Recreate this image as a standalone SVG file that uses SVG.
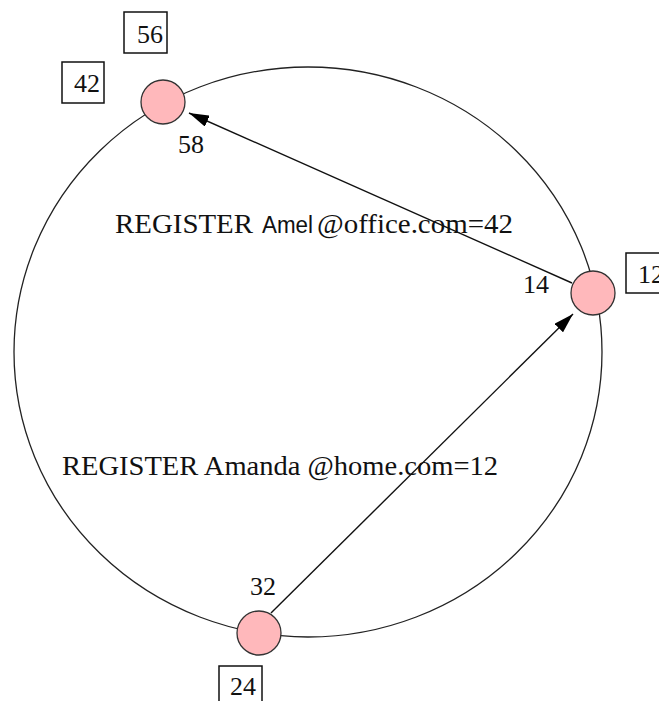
<svg xmlns="http://www.w3.org/2000/svg" width="659" height="701" viewBox="0 0 659 701">
  <style>
    .ring { fill: none; stroke: #222; stroke-width: 1.3; }
    .node circle { fill: #ffb8bb; stroke: #333; stroke-width: 1.3; }
    .id rect { fill: #fff; stroke: #111; stroke-width: 1.5; }
    .t { font-family: "Liberation Serif", "Times New Roman", serif; font-size: 26px; fill: #111; }
    .msg { font-family: "Liberation Serif", "Times New Roman", serif; font-size: 27px; fill: #111; }
    .sans { font-family: "Liberation Sans", Arial, sans-serif; font-size: 23px; }
    .edge { stroke: #111; stroke-width: 1.4; fill: none; marker-end: url(#head); }
  </style>
  <defs>
    <marker id="head" viewBox="0 0 20 12" refX="20" refY="6" markerWidth="20" markerHeight="12" markerUnits="userSpaceOnUse" orient="auto">
      <path d="M0,0 L20,6 L0,12 Z" fill="#000"/>
    </marker>
  </defs>

  <!-- identifier ring -->
  <ellipse class="ring" cx="308" cy="352" rx="294" ry="285"/>

  <!-- connectors -->
  <g id="connectors">
    <line class="edge" x1="572" y1="283" x2="189" y2="113"/>
    <line class="edge" x1="271" y1="613" x2="573" y2="314"/>
  </g>

  <!-- messages -->
  <text class="msg" x="115" y="233" textLength="138" lengthAdjust="spacingAndGlyphs">REGISTER</text>
  <text class="msg sans" x="262" y="233" textLength="51" lengthAdjust="spacingAndGlyphs">Amel</text>
  <text class="msg" x="317" y="233" textLength="196" lengthAdjust="spacingAndGlyphs">@office.com=42</text>
  <text class="msg" x="62" y="475" textLength="436" lengthAdjust="spacingAndGlyphs">REGISTER Amanda @home.com=12</text>

  <!-- peer 42 -->
  <g id="node-42" class="node">
    <circle cx="163" cy="102" r="22"/>
    <text class="t" x="178" y="153">58</text>
  </g>
  <!-- peer 12 -->
  <g id="node-12" class="node">
    <circle cx="593" cy="293" r="22"/>
    <text class="t" x="523" y="293">14</text>
  </g>
  <!-- peer 24 -->
  <g id="node-24" class="node">
    <circle cx="259" cy="633" r="22"/>
    <text class="t" x="250" y="595">32</text>
  </g>

  <!-- identifier boxes -->
  <g id="box-56" class="id">
    <rect x="124" y="12" width="43" height="41"/>
    <text class="t" x="137" y="43">56</text>
  </g>
  <g id="box-42" class="id">
    <rect x="62" y="62" width="42" height="41"/>
    <text class="t" x="74" y="92">42</text>
  </g>
  <g id="box-12" class="id">
    <rect x="626" y="253" width="42" height="40"/>
    <text class="t" x="638" y="283">12</text>
  </g>
  <g id="box-24" class="id">
    <rect x="219" y="666" width="43" height="40"/>
    <text class="t" x="230" y="695">24</text>
  </g>
</svg>
